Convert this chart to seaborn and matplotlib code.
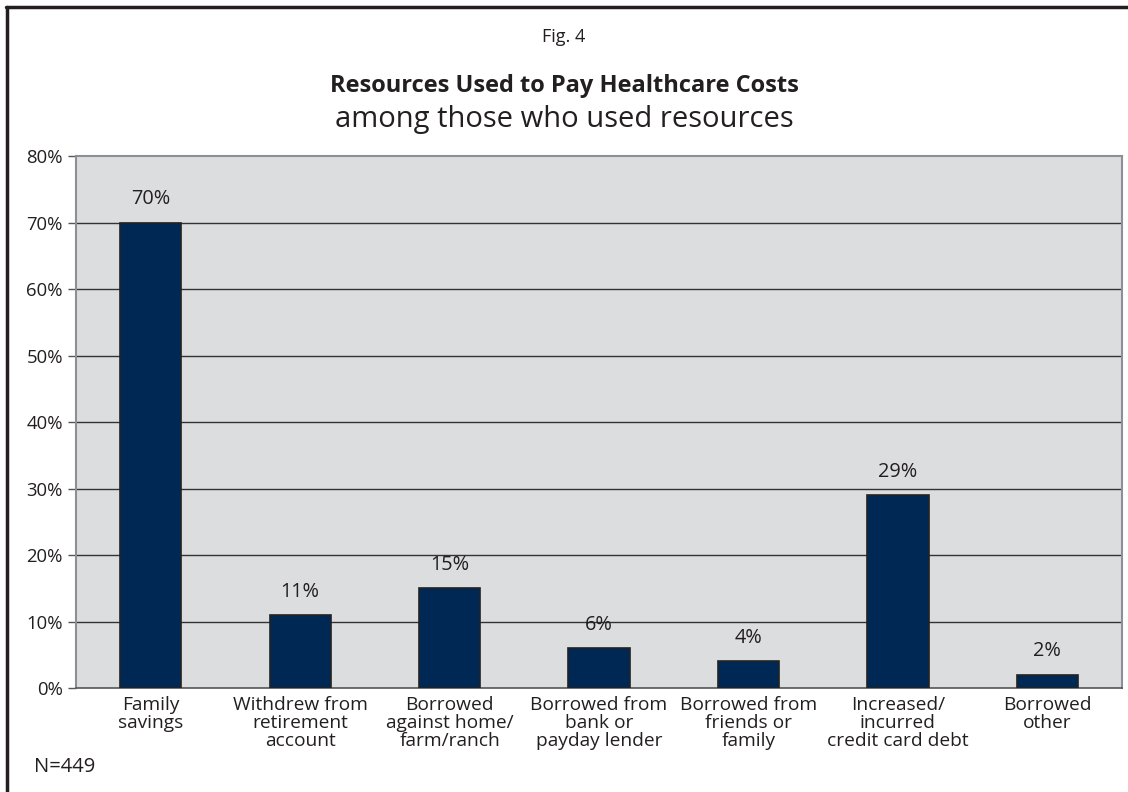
import matplotlib
matplotlib.use("Agg")
import matplotlib.pyplot as plt
import seaborn as sns
import pandas as pd

categories = ["Family\nsavings", "Withdrew from\nretirement\naccount",
              "Borrowed\nagainst home/\nfarm/ranch", "Borrowed from\nbank or\npayday lender",
              "Borrowed from\nfriends or\nfamily", "Increased/\nincurred\ncredit card debt",
              "Borrowed\nother"]
values = [70, 11, 15, 6, 4, 29, 2]
yticks = [0, 10, 20, 30, 40, 50, 60, 70, 80]

df = pd.DataFrame({"resource": categories, "pct": values})

sns.set_style("white")
plt.rcParams['font.family'] = ['Open Sans', 'DejaVu Sans']

fig = plt.figure(figsize=(11.28, 7.92), dpi=100)
ax = fig.add_axes([0.0674, 0.1313, 0.9273, 0.6717])
ax.set_facecolor("#dcdddf")

sns.barplot(data=df, x="resource", y="pct", color="#002855", width=0.41,
            edgecolor="#222222", linewidth=1.2, saturation=1, ax=ax, zorder=3)

ax.set_ylim(0, 80)
ax.set_yticks(yticks)
ax.set_yticklabels([f"{t}%" for t in yticks])
for t in yticks[1:-1]:
    ax.axhline(t, color="#333333", lw=1, zorder=1)

for i, v in enumerate(values):
    ax.text(i, v + 2.0, f"{v}%", ha="center", va="bottom", fontsize=14.3, color="#231f20")

ax.set_xlim(-0.5, len(categories) - 0.5)
ax.set_xticks(range(len(categories)))
ax.set_xticklabels(categories, fontsize=13.8, color="#231f20", linespacing=0.98)
ax.tick_params(axis="x", length=0, pad=6)
ax.set_xticks([i + 0.5 for i in range(len(categories) - 1)], minor=True)
ax.tick_params(axis="x", which="minor", length=6, width=1, color="#555555", direction="out")
ax.tick_params(axis="y", length=6, width=1, color="#555555", direction="out",
               labelsize=13.3, labelcolor="#231f20", left=True)
ax.set_xlabel("")
ax.set_ylabel("")

for s in ["left", "top", "right"]:
    ax.spines[s].set_color("#8c9096")
    ax.spines[s].set_linewidth(1.5)
ax.spines["bottom"].set_color("#555555")
ax.spines["bottom"].set_linewidth(1.2)

fig.text(0.5, 1 - 37 / 792, "Fig. 4", ha="center", va="center", fontsize=13, color="#231f20")
fig.text(0.5, 1 - 86 / 792, "Resources Used to Pay Healthcare Costs", ha="center", va="center",
         fontsize=17, fontweight="bold", color="#231f20")
fig.text(0.5, 1 - 119 / 792, "among those who used resources", ha="center", va="center",
         fontsize=21, color="#231f20")
fig.text(34 / 1128, 1 - 767 / 792, "N=449", ha="left", va="center", fontsize=14.5, color="#231f20")

# figure frame (top and left edges)
fig.add_artist(plt.Line2D([6 / 1128, 1], [1 - 6.5 / 792] * 2, color="#231f20", lw=2.5))
fig.add_artist(plt.Line2D([6.5 / 1128] * 2, [0, 1 - 6.5 / 792], color="#231f20", lw=2.5))

fig.savefig("out.png", dpi=100)
